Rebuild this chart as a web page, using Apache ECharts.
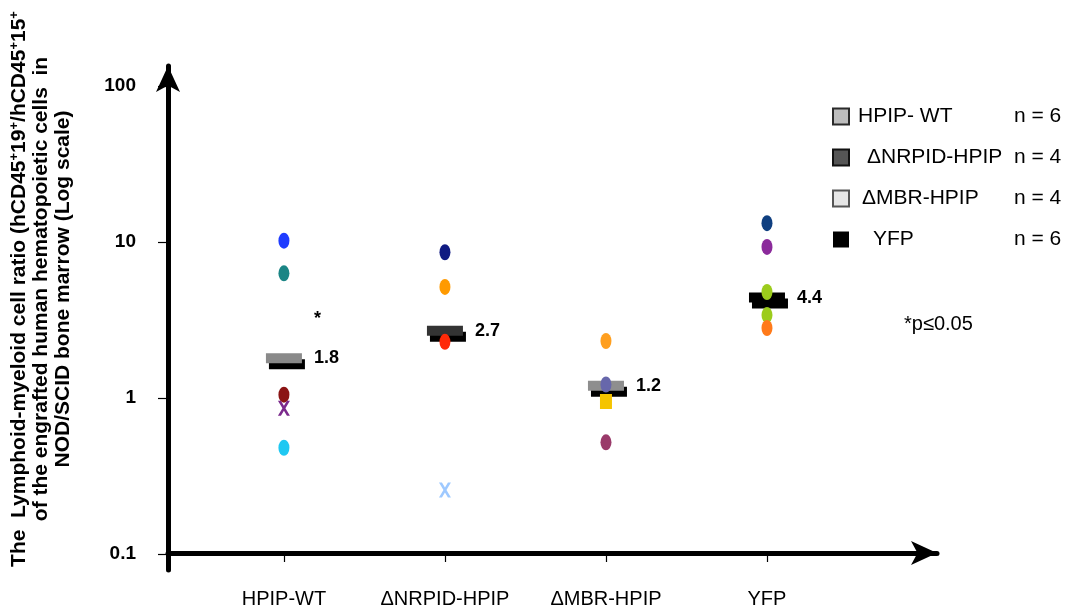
<!DOCTYPE html>
<html>
<head>
<meta charset="utf-8">
<script src="https://cdn.jsdelivr.net/npm/echarts@6/dist/echarts.min.js"></script>
<style>
  html, body { margin: 0; padding: 0; background: #fff; }
  #chart { width: 1067px; height: 612px; }
</style>
</head>
<body>
<div id="chart"></div>
<script>
// Groups shown along the x axis
const categories = ['HPIP-WT', 'ΔNRPID-HPIP', 'ΔMBR-HPIP', 'YFP'];
const legendNames = ['HPIP- WT', 'ΔNRPID-HPIP', 'ΔMBR-HPIP', 'YFP'];
const groupSizes = [6, 4, 4, 6];

// Lymphoid-myeloid ratio of each mouse, per group
const hpipWt = [10.2, 6.3, 1.05, 0.86, 0.48];
const nrpid = [8.6, 5.15, 2.29, 0.257];
const mbr = [2.32, 1.22, 0.95, 0.52];
const yfp = [13.2, 9.3, 4.78, 3.4, 2.81];

// Group medians (labelled next to each bar)
const medians = [1.8, 2.7, 1.2, 4.4];

// Log axis ticks
const yTicks = [0.1, 1, 10, 100];

// ---- styling ----
const pointColors = [
  ['#1f3cff', '#1b8585', '#8b1414', '#7b2a8c', '#1fc8f2'],
  ['#101a82', '#ff9a00', '#ff2a08', '#9ec9ff'],
  ['#ff9f1f', '#6767ab', '#f5c400', '#9a3a6a'],
  ['#0f3f80', '#8b2a9b', '#9ccc1c', '#9ccc1c', '#ff7a1a']
];
const pointShapes = [
  ['e', 'e', 'e', 'x', 'e'],
  ['e', 'e', 'e', 'x'],
  ['e', 'e', 's', 'e'],
  ['e', 'e', 'e', 'e', 'e']
];
const crossPath = 'path://M0,0 L3,0 L6,5 L9,0 L12,0 L7.5,7.5 L12,15 L9,15 L6,10 L3,15 L0,15 L4.5,7.5 Z';

function shapeStyle(s) {
  if (s === 'x') return { symbol: crossPath, symbolSize: [12, 15] };
  if (s === 's') return { symbol: 'rect', symbolSize: [12, 15] };
  return { symbol: 'circle', symbolSize: [11, 16] };
}

// gray bar with a row of white squares
const pat = document.createElement('canvas');
pat.width = 8; pat.height = 8;
const pctx = pat.getContext('2d');
pctx.fillStyle = '#8e8e8e';
pctx.fillRect(0, 0, 8, 8);
pctx.fillStyle = '#ffffff';
pctx.fillRect(2, 2, 4, 4);

const medianColors = ['#8a8a8a', '#333333', { image: pat, repeat: 'repeat' }, '#000000'];
const legendIconStyles = [
  { color: '#bdbdbd', borderColor: '#2a2a2a', borderWidth: 2 },
  { color: '#555555', borderColor: '#111111', borderWidth: 2 },
  { color: '#e6e6e6', borderColor: '#555555', borderWidth: 2 },
  { color: '#000000', borderColor: '#000000', borderWidth: 0 }
];
const legendPads = [4, 13, 8, 19];

const groups = [hpipWt, nrpid, mbr, yfp];
const FONT = '"Liberation Sans", Arial, sans-serif';

const series = [];

// shadow of each median bar
series.push({
  type: 'scatter', xAxisIndex: 0, yAxisIndex: 0, silent: true, z: 2,
  symbol: 'rect', symbolSize: [36, 10], symbolOffset: [3, 6],
  itemStyle: { color: '#000', opacity: 1 },
  data: medians.map((m, i) => [i + 1, m])
});

// median bars with their value
medians.forEach((m, i) => {
  series.push({
    name: legendNames[i],
    type: 'scatter', xAxisIndex: 0, yAxisIndex: 0, silent: true, z: 3,
    symbol: 'rect', symbolSize: [36, 10],
    itemStyle: { color: medianColors[i], opacity: 1 },
    label: {
      show: true, position: 'right', distance: 12,
      formatter: p => String(p.value[1]),
      fontFamily: FONT, fontWeight: 'bold', fontSize: 18, color: '#000'
    },
    data: [[i + 1, m]]
  });
});

// individual mice
groups.forEach((vals, i) => {
  series.push({
    type: 'scatter', xAxisIndex: 0, yAxisIndex: 0, silent: true, z: 4,
    data: vals.map((v, j) => Object.assign({
      value: [i + 1, v],
      itemStyle: { color: pointColors[i][j], opacity: 1 }
    }, shapeStyle(pointShapes[i][j])))
  });
});

const richLegend = {
  n: { fontFamily: FONT, fontSize: 21, color: '#000', lineHeight: 16 }
};
legendPads.forEach((p, i) => {
  richLegend['t' + i] = { fontFamily: FONT, fontSize: 21, color: '#000', lineHeight: 16, width: 1014 - 854 - p, padding: [0, 0, 0, p] };
});

const option = {
  animation: false,
  backgroundColor: '#fff',
  grid: [
    { left: 168, right: 139, top: 86, bottom: 58 },
    { left: 168, right: 130, top: 66, bottom: 42 }
  ],
  xAxis: [
    {
      gridIndex: 0, type: 'value', min: 0.28, max: 5,
      axisLine: { show: false }, splitLine: { show: false },
      axisTick: { show: true, customValues: [1, 2, 3, 4], length: 8, lineStyle: { color: '#000', width: 1.2 } },
      axisLabel: {
        customValues: [1, 2, 3, 4], formatter: v => categories[Math.round(v) - 1],
        margin: 35, fontFamily: FONT, fontSize: 20, color: '#000'
      }
    },
    {
      gridIndex: 1, type: 'value', min: 0, max: 1,
      axisLine: { show: true, symbol: ['none', 'arrow'], symbolSize: [18, 26], lineStyle: { color: '#000', width: 5 } },
      axisTick: { show: false }, axisLabel: { show: false }, splitLine: { show: false }
    }
  ],
  yAxis: [
    {
      gridIndex: 0, type: 'log', logBase: 10, min: yTicks[0], max: yTicks[yTicks.length - 1],
      axisLine: { show: false }, splitLine: { show: false },
      axisTick: { show: true, length: 10, lineStyle: { color: '#000', width: 1.2 } },
      axisLabel: {
        margin: 32, fontFamily: FONT, fontSize: 19, fontWeight: 'bold', color: '#000',
        padding: [0, 0, 10, 0],
        formatter: v => String(v)
      }
    },
    {
      gridIndex: 1, type: 'value', min: -17, max: 487,
      axisLine: { show: true, symbol: ['none', 'arrow'], symbolSize: [18, 26], lineStyle: { color: '#000', width: 5 } },
      axisTick: { show: false }, axisLabel: { show: false }, splitLine: { show: false }
    }
  ],
  legend: {
    orient: 'vertical', left: 827, top: 101,
    itemWidth: 16, itemHeight: 16, itemGap: 20, icon: 'rect',
    selectedMode: false,
    data: legendNames.map((n, i) => ({ name: n, itemStyle: legendIconStyles[i] })),
    formatter: name => {
      const i = legendNames.indexOf(name);
      return '{t' + i + '|' + name + '}{n|n = ' + groupSizes[i] + '}';
    },
    textStyle: { fontFamily: FONT, fontSize: 21, color: '#000', lineHeight: 16, rich: richLegend }
  },
  graphic: [
    {
      type: 'text', x: 41, y: 289, rotation: Math.PI / 2,
      style: {
        text: 'The  Lymphoid-myeloid cell ratio (hCD45{s|+}19{s|+}/hCD45{s|+}15{s|+}\n' +
              'of the engrafted human hematopoietic cells  in\n' +
              'NOD/SCID bone marrow (Log scale)',
        align: 'center', verticalAlign: 'middle',
        font: 'bold 21px ' + FONT, fill: '#000', lineHeight: 22,
        rich: { s: { fontSize: 13, fontWeight: 'bold', fontFamily: FONT, verticalAlign: 'top', lineHeight: 22, padding: [0, 0, 8, 0] } }
      }
    },
    { type: 'text', x: 314, y: 310, style: { text: '*', font: 'bold 18px ' + FONT, fill: '#000' } },
    { type: 'text', x: 904, y: 314, style: { text: '*p≤0.05', font: '20px ' + FONT, fill: '#000' } }
  ],
  series: series
};

const chart = echarts.init(document.getElementById('chart'), null, { renderer: 'canvas' });
chart.setOption(option);
</script>
</body>
</html>
